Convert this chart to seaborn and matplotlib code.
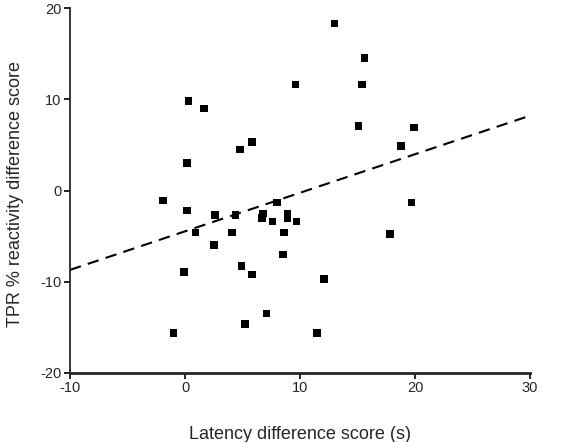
import numpy as np
import matplotlib
matplotlib.use("Agg")
import matplotlib.pyplot as plt
import seaborn as sns

# latency difference score (s) vs TPR % reactivity difference score
latency = [0.3, 1.65, 4.8, 5.8, 0.15, -1.9, 0.15, 8.0, 13.0, 15.6,
           9.6, 15.4, 15.1, 19.9, 18.8, 19.7, 17.8, 2.6, 4.4, 6.8,
           6.7, 7.6, 8.9, 8.9, 9.7, 0.9, 4.1, 8.6, 2.5, 8.5,
           -0.1, 4.9, 5.8, 12.1, -1.0, 5.2, 7.1, 11.5]
tpr = [9.8, 9.0, 4.5, 5.3, 3.0, -1.1, -2.2, -1.3, 18.3, 14.5,
       11.6, 11.6, 7.1, 6.9, 4.9, -1.3, -4.8, -2.7, -2.7, -2.5,
       -3.0, -3.4, -2.6, -3.0, -3.4, -4.6, -4.6, -4.6, -6.0, -7.0,
       -8.9, -8.3, -9.2, -9.7, -15.6, -14.6, -13.5, -15.6]

fit_x = [-10, 30]
fit_y = [-8.7, 8.2]

x_ticks = [-10, 0, 10, 20, 30]
y_ticks = [-20, -10, 0, 10, 20]

sns.set_style("ticks")
plt.rcParams['font.family'] = ['Liberation Sans', 'DejaVu Sans']
plt.rcParams['axes.unicode_minus'] = False

fig = plt.figure(figsize=(5.61, 4.42), dpi=100)
ax = fig.add_axes([70/561, 1 - 373/442, 460/561, 365/442])

sns.scatterplot(x=latency, y=tpr, marker='s', s=30, color='black',
                edgecolor='none', ax=ax, clip_on=False, zorder=3)
sns.lineplot(x=fit_x, y=fit_y, color='black', linewidth=1.5,
             dashes=False, ax=ax)
ax.lines[-1].set_dashes([5.5, 3.5])

ax.set_xlim(-10, 30)
ax.set_ylim(-20, 20)
ax.set_xticks(x_ticks)
ax.set_yticks(y_ticks)
ax.tick_params(axis='both', labelsize=10.5, length=4, width=1.2,
               color='black', pad=2)
sns.despine(ax=ax)
ax.spines['left'].set_linewidth(1.3)
ax.spines['bottom'].set_linewidth(2.0)

ax.set_xlabel("Latency difference score (s)", fontsize=13)
ax.set_ylabel("TPR % reactivity difference score", fontsize=13)
ax.xaxis.set_label_coords(0.5, -0.145)
ax.yaxis.set_label_coords(-0.1, 0.49)

fig.savefig("out.png", dpi=100)
